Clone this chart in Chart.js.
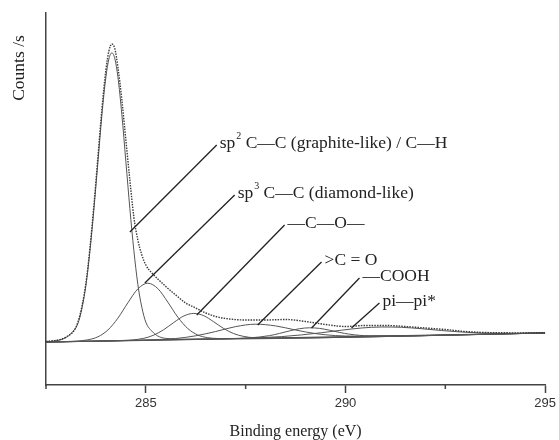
<!DOCTYPE html>
<html>
<head>
<meta charset="utf-8">
<script src="https://cdn.jsdelivr.net/npm/chart.js@4.4.1/dist/chart.umd.min.js"></script>
<style>
html, body { margin: 0; padding: 0; background: #fff; }
#wrap { width: 559px; height: 440px; }
</style>
</head>
<body>
<div id="wrap"><canvas id="xpsChart" width="559" height="440"></canvas></div>
<script>
// C1s spectrum, binding energy in eV, intensity in counts/s (arbitrary units)
var envelopeEnergy = [282.5, 283.0, 283.3, 283.5, 283.6, 283.7, 283.8, 283.9, 284.0, 284.075, 284.15, 284.225, 284.3, 284.4, 284.5, 284.6, 284.7, 284.8, 284.9, 285.0, 285.15, 285.3, 285.5, 285.75, 286.0, 286.25, 286.5, 286.75, 287.0, 287.5, 288.0, 288.5, 289.0, 289.5, 290.0, 290.5, 291.0, 291.5, 292.0, 292.5, 293.0, 293.5, 294.0, 294.5, 295.0];
var envelopeCounts = [43.5, 48, 63, 102, 137, 180, 228, 276, 315, 334, 341, 336, 318, 285, 245, 205, 168, 145, 130, 120, 112, 106, 98.5, 90, 82, 77, 72, 68.5, 66.5, 65, 65, 65.5, 63.5, 60.5, 58.5, 59.5, 59.5, 58.5, 57, 55.5, 53.5, 52.5, 52.2, 52.1, 52.2];

var sp2Energy = [282.5, 282.8, 283.0, 283.15, 283.3, 283.4, 283.5, 283.6, 283.7, 283.8, 283.9, 284.0, 284.075, 284.15, 284.225, 284.3, 284.4, 284.5, 284.6, 284.7, 284.8, 284.9, 285.0, 285.15, 285.3, 285.5, 286.0, 295.0];
var sp2Counts = [43.0, 44.6, 47.4, 52.5, 61.6, 76.6, 99.7, 133.8, 175.9, 222.9, 270.0, 308.1, 326.1, 332.2, 326.2, 308.3, 270.4, 223.4, 176.5, 134.6, 100.6, 77.7, 62.8, 53.9, 49.0, 46.6, 45.8, 52.0];

var sp3Energy = [282.5, 283.05, 283.3, 283.55, 283.8, 284.05, 284.3, 284.55, 284.8, 285.05, 285.3, 285.55, 285.8, 286.05, 286.3, 286.55, 286.8, 287.05, 295.0];
var sp3Counts = [43.0, 43.5, 44.0, 45.2, 48.2, 55.0, 66.8, 82.2, 96.1, 101.8, 96.4, 82.9, 67.9, 56.5, 50.0, 47.3, 46.5, 46.4, 52.0];

var coEnergy = [282.5, 284.2, 284.45, 284.7, 284.95, 285.2, 285.45, 285.7, 285.95, 286.2, 286.45, 286.7, 286.95, 287.2, 287.45, 287.7, 287.95, 288.2, 295.0];
var coCounts = [43.0, 44.2, 44.6, 45.2, 46.7, 49.9, 55.4, 62.5, 69.0, 71.6, 69.3, 63.2, 56.5, 51.4, 48.6, 47.3, 47.1, 47.1, 52.0];

var carbonylEnergy = [282.5, 284.75, 285.25, 285.75, 286.25, 286.75, 287.25, 287.75, 288.25, 288.75, 289.25, 289.75, 290.25, 290.75, 295.0];
var carbonylCounts = [43.0, 44.6, 45.3, 46.5, 49.2, 53.5, 58.4, 60.8, 59.1, 55.0, 51.4, 49.4, 48.9, 48.9, 52.0];

var coohEnergy = [282.5, 287.1, 287.6, 288.1, 288.35, 288.6, 288.85, 289.1, 289.35, 289.6, 289.85, 290.1, 290.6, 291.1, 295.0];
var coohCounts = [43.0, 46.3, 47.1, 49.4, 51.6, 54.1, 56.3, 57.2, 56.6, 54.8, 52.6, 50.8, 49.2, 49.2, 52.0];

var piEnergy = [282.5, 286.9, 287.4, 287.9, 288.4, 288.9, 289.4, 289.9, 290.4, 290.9, 291.4, 291.9, 292.4, 292.9, 293.4, 293.9, 294.4, 295.0];
var piCounts = [43.0, 46.3, 46.7, 47.4, 48.4, 50.1, 52.3, 54.8, 57.0, 58.0, 57.7, 56.3, 54.5, 53.0, 52.0, 51.7, 51.8, 52.0];

var baselineEnergy = [282.5, 295.0];
var baselineCounts = [43.0, 52.0];

var xTicks = [285, 290, 295];
var minorTicks = [282.5, 287.5, 292.5];

// peak labels: leader line from a point on the curve (eV, counts) to the label
var notes = [
    { from: [284.6, 153], to: [286.775, 240], pre: 'sp', sup: '2', text: ' C\u2014C (graphite-like) / C\u2014H' },
    { from: [284.975, 102], to: [287.225, 190], pre: 'sp', sup: '3', text: ' C\u2014C (diamond-like)' },
    { from: [286.275, 70], to: [288.475, 160], text: '\u2014C\u2014O\u2014' },
    { from: [287.8, 60], to: [289.4, 123], text: '>C = O' },
    { from: [289.15, 57], to: [290.35, 107], text: '\u2014COOH' },
    { from: [290.15, 57], to: [290.85, 82], text: 'pi\u2014pi*' }
];

function pairs(xs, ys) {
    return xs.map(function(x, i) { return { x: x, y: ys[i] }; });
}

function curve(xs, ys, color, dash, width) {
    return {
        data: pairs(xs, ys),
        borderColor: color,
        borderWidth: width || 1,
        borderDash: dash || [],
        pointRadius: 0,
        fill: false,
        cubicInterpolationMode: 'monotone'
    };
}

var serif = '"Liberation Serif", "Times New Roman", serif';

var extras = {
    id: 'extras',
    afterDraw: function(chart) {
        var ctx = chart.ctx;
        var xs = chart.scales.x, ys = chart.scales.y;
        ctx.save();

        // minor ticks
        ctx.strokeStyle = '#444';
        ctx.lineWidth = 1.5;
        minorTicks.forEach(function(v) {
            var px = xs.getPixelForValue(v);
            ctx.beginPath();
            ctx.moveTo(px, ys.bottom);
            ctx.lineTo(px, ys.bottom + 4);
            ctx.stroke();
        });

        // y title
        ctx.fillStyle = '#222';
        ctx.font = '17.5px ' + serif;
        ctx.textAlign = 'center';
        ctx.textBaseline = 'middle';
        ctx.save();
        ctx.translate(19, 68);
        ctx.rotate(-Math.PI / 2);
        ctx.fillText('Counts /s', 0, 0);
        ctx.restore();

        // leader lines and labels
        ctx.strokeStyle = '#222';
        ctx.lineWidth = 1.3;
        ctx.textAlign = 'left';
        notes.forEach(function(n) {
            var x0 = xs.getPixelForValue(n.from[0]), y0 = ys.getPixelForValue(n.from[1]);
            var x1 = xs.getPixelForValue(n.to[0]), y1 = ys.getPixelForValue(n.to[1]);
            ctx.beginPath();
            ctx.moveTo(x0, y0);
            ctx.lineTo(x1, y1);
            ctx.stroke();
            var tx = x1 + 3, ty = y1 - 2;
            ctx.font = '17.5px ' + serif;
            if (n.pre) {
                ctx.fillText(n.pre, tx, ty);
                tx += ctx.measureText(n.pre).width + 1;
                ctx.font = '10px ' + serif;
                ctx.fillText(n.sup, tx, ty - 7);
                tx += ctx.measureText(n.sup).width;
                ctx.font = '17.5px ' + serif;
            }
            ctx.fillText(n.text, tx, ty);
        });
        ctx.restore();
    }
};

var chart = new Chart(document.getElementById('xpsChart').getContext('2d'), {
    type: 'line',
    data: {
        datasets: [
            curve(envelopeEnergy, envelopeCounts, '#3a3a3a', [1.5, 1.2], 1.4),
            curve(sp2Energy, sp2Counts, '#555'),
            curve(sp3Energy, sp3Counts, '#555'),
            curve(coEnergy, coCounts, '#555'),
            curve(carbonylEnergy, carbonylCounts, '#555'),
            curve(coohEnergy, coohCounts, '#555'),
            curve(piEnergy, piCounts, '#555'),
            curve(baselineEnergy, baselineCounts, '#444')
        ]
    },
    options: {
        responsive: false,
        animation: false,
        layout: { padding: { top: 13, right: 12, left: 0, bottom: 0 } },
        plugins: { legend: { display: false }, tooltip: { enabled: false } },
        scales: {
            x: {
                type: 'linear',
                min: 282.5,
                max: 295,
                afterFit: function(s) { s.height = 55; },
                afterBuildTicks: function(s) {
                    s.ticks = xTicks.map(function(v) { return { value: v }; });
                },
                grid: { display: true, drawOnChartArea: false, tickLength: 8, tickWidth: 1.5, tickColor: '#444' },
                border: { display: true, color: '#444', width: 1.5 },
                ticks: {
                    padding: 3,
                    color: '#333',
                    font: { family: '"Liberation Sans", Arial, sans-serif', size: 13 },
                    maxRotation: 0
                },
                title: {
                    display: true,
                    text: 'Binding energy (eV)',
                    color: '#222',
                    font: { family: serif, size: 16, lineHeight: 1 },
                    padding: { top: 0, bottom: 0 }
                }
            },
            y: {
                min: 0,
                max: 372,
                afterFit: function(s) { s.width = 46; },
                grid: { display: false },
                border: { display: true, color: '#444', width: 1.5 },
                ticks: { display: false }
            }
        }
    },
    plugins: [extras]
});
</script>
</body>
</html>
